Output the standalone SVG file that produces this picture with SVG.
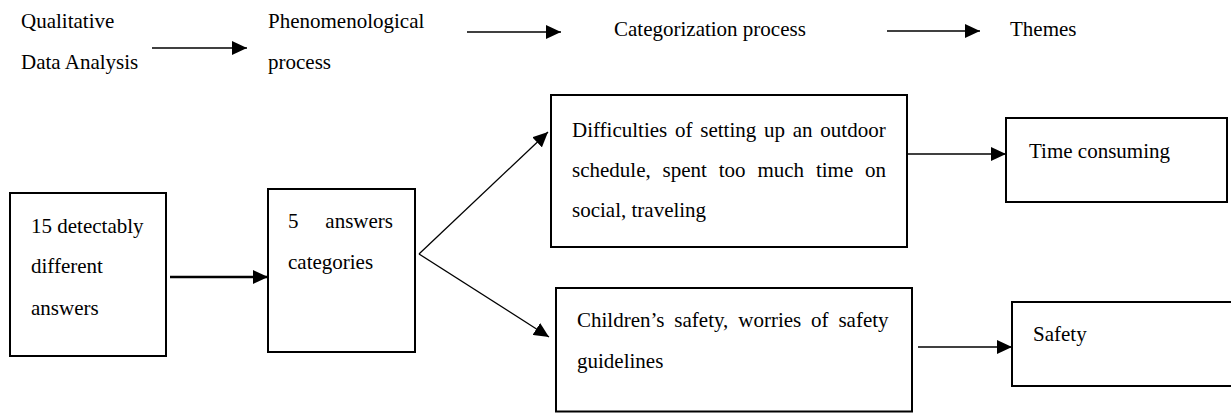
<svg xmlns="http://www.w3.org/2000/svg" width="1231" height="413" viewBox="0 0 1231 413">
<style>
text{font-family:'Liberation Serif','Times New Roman',Times,serif;font-size:21px;fill:#000}
.box{fill:#fff;stroke:#000;stroke-width:2}
.c{stroke:#000;stroke-width:1.3;fill:none;marker-end:url(#ah)}
.cb{stroke:#000;stroke-width:2.6;fill:none;marker-end:url(#ah)}
</style>
<defs>
<marker id="ah" markerUnits="userSpaceOnUse" markerWidth="16" markerHeight="14" refX="15" refY="7" orient="auto">
<path d="M0,0 L15,7 L0,14 Z" fill="#000"/>
</marker>
</defs>
<rect width="1231" height="413" fill="#fff"/>
<g font-family="Liberation Serif, Times New Roman, serif" font-size="21">
<g id="qualitative">
<text x="21" y="28">Qualitative</text>
<text x="21" y="69">Data Analysis</text>
</g>
<g id="phenomenological">
<text x="268" y="28">Phenomenological</text>
<text x="268" y="69">process</text>
</g>
<g id="categorization">
<text x="614" y="36">Categorization process</text>
</g>
<g id="themes">
<text x="1010" y="36">Themes</text>
</g>
<g id="answers15">
<rect class="box" x="10" y="193" width="156" height="163"/>
<text x="31" y="233">15 detectably</text>
<text x="31" y="273">different</text>
<text x="31" y="315">answers</text>
</g>
<g id="categories5">
<rect class="box" x="268" y="189" width="147" height="163"/>
<text x="288" y="228" word-spacing="21.6">5 answers</text>
<text x="288" y="269">categories</text>
</g>
<g id="difficulties">
<rect class="box" x="551" y="95" width="356" height="152"/>
<text x="572" y="137" word-spacing="2.5">Difficulties of setting up an outdoor</text>
<text x="572" y="177" word-spacing="6.6">schedule, spent too much time on</text>
<text x="572" y="217">social, traveling</text>
</g>
<g id="timeconsuming">
<rect class="box" x="1006" y="118" width="221" height="84"/>
<text x="1029" y="158">Time consuming</text>
</g>
<g id="childrensafety">
<rect class="box" x="556" y="288" width="356" height="123.5"/>
<text x="577" y="327" word-spacing="4.6">Children’s safety, worries of safety</text>
<text x="577" y="368">guidelines</text>
</g>
<g id="safety">
<rect class="box" x="1012" y="302" width="240" height="84"/>
<text x="1033" y="341">Safety</text>
</g>
</g>
<g id="connectors">
<line class="c" x1="152" y1="48" x2="247" y2="48"/>
<line class="c" x1="467" y1="32" x2="561" y2="32"/>
<line class="c" x1="887" y1="31" x2="980" y2="31"/>
<line class="cb" x1="170" y1="277" x2="268" y2="277"/>
<line class="c" x1="419" y1="254" x2="548" y2="132"/>
<line class="c" x1="419" y1="254" x2="549" y2="337"/>
<line class="c" x1="907" y1="154" x2="1006" y2="154"/>
<line class="c" x1="918" y1="347" x2="1012" y2="347"/>
</g>
</svg>
